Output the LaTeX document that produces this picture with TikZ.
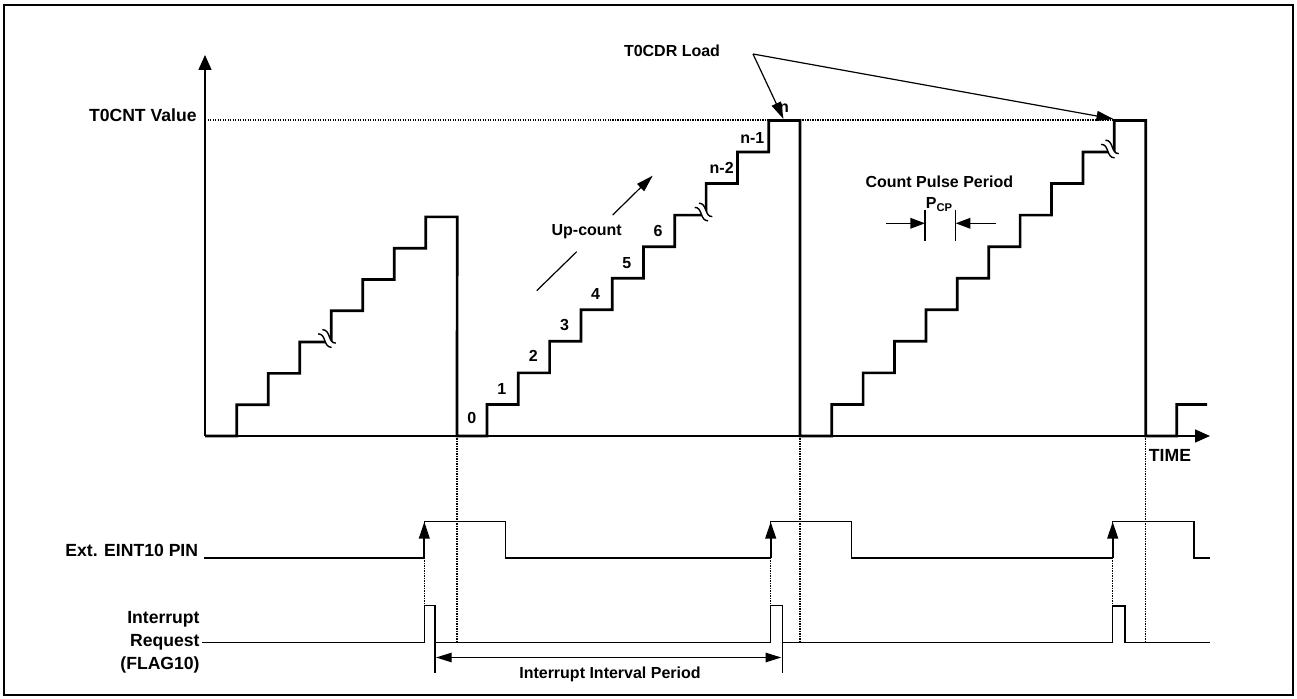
\documentclass[tikz,border=0pt]{standalone}
\usepackage{fontspec}
\setmainfont{Liberation Sans}
\usetikzlibrary{arrows.meta}
\begin{document}
\begin{tikzpicture}[x=0.5pt,y=-0.5pt,
  lbl/.style={inner sep=0pt, font=\bfseries\fontsize{8}{9.6}\selectfont, text height=5.75pt, text depth=0pt},
  biglbl/.style={inner sep=0pt, font=\bfseries\fontsize{8.8}{10.5}\selectfont, text height=6.3pt, text depth=0pt},
  stair/.style={line width=1.35pt, line join=miter},
  axisline/.style={line width=0.8pt, -{Triangle[length=7.5pt,width=6.5pt]}},
  sig/.style={line width=0.7pt, line join=miter},
  dots/.style={line width=0.6pt, dash pattern=on 0.6pt off 0.65pt},
  ptr/.style={line width=0.6pt, -{Triangle[length=8.5pt,width=5pt]}},
  cpar/.style={line width=0.6pt, -{Triangle[length=7.3pt,width=5.3pt]}},
  edgearrow/.style={line width=1.1pt, -{Triangle[length=8.5pt,width=5.3pt]}},
  intarrow/.style={line width=0.6pt, {Triangle[length=7.8pt,width=4.7pt]}-{Triangle[length=7.8pt,width=4.7pt]}},
  brk/.pic={
    \draw[white,line width=2.6pt] (-10,0) .. controls (-4,-6) and (4,6) .. (10,0);
    \draw[line width=0.7pt] (-9.5,-3) .. controls (-3.5,-9) and (4,3) .. (9.5,-3);
    \draw[line width=0.7pt] (-9.5,3) .. controls (-4,-3) and (3.5,9) .. (9.5,3);
  }
]
\useasboundingbox (0,0) rectangle (1297,699);
% frame
\draw[line width=1pt] (4,5) rectangle (1293,695);

% coordinates
\coordinate (O) at (205,436);
\coordinate (ytip) at (205,55);
\coordinate (xtip) at (1210,436);
\coordinate (dL) at (205,120);
\coordinate (dR) at (1113,120);

% dotted guide lines
\draw[dots] (dL) -- (dR);
\draw[dots] (457,436) -- (457,642.3);
\draw[dots] (800,436) -- (800,642.3);
\draw[dots] (1145.7,436) -- (1145.7,642.3);
\draw[dots] (424.3,558) -- (424.3,605.7);
\draw[dots] (770.7,558) -- (770.7,605.7);
\draw[dots] (1112.7,558) -- (1112.7,606);

% axes
\draw[axisline] (O) -- (ytip);
\draw[axisline] (O) -- (xtip);

% staircases
\draw[stair] (205,436) -- (236.7,436)
  foreach \k in {1,...,7} { -- ++(0,-31.3) -- ++(31.5,0) }
  -- (457,436) -- (487,436)
  foreach \k in {1,...,10} { -- ++(0,-31.55) -- ++(31.3,0) }
  -- (800,436) -- (831.7,436)
  foreach \k in {1,...,10} { -- ++(0,-31.55) -- ++(31.4,0) }
  -- (1145.7,436) -- (1176.7,436) -- (1176.7,404.45) -- (1207,404.45);

% break marks
\pic[rotate=-45] at (327,338.5) {brk};
\pic[rotate=-45] at (703.5,212) {brk};
\pic[rotate=-45] at (1110,149) {brk};

% labels on the axis
\node[biglbl, anchor=east] (cntval) at (197,115) {T0CNT Value};
\node[biglbl] (time) at (1170,455) {TIME};

% step labels
\node[lbl] (s0) at (471.7,418) {0};
\node[lbl] (s1) at (501.7,388.3) {1};
\node[lbl] (s2) at (533.3,356) {2};
\node[lbl] (s3) at (564.5,325) {3};
\node[lbl] (s4) at (595.5,294) {4};
\node[lbl] (s5) at (626.7,262.5) {5};
\node[lbl] (s6) at (658,231) {6};
\node[lbl] (sn2) at (721.7,168) {n-2};
\node[lbl] (sn1) at (752.3,137.3) {n-1};
\node[lbl] (sn) at (784,106.5) {n};

% T0CDR Load
\node[lbl] (load) at (672,51) {T0CDR Load};
\coordinate (ldpt) at (753,54);
\coordinate (top1) at (783.5,119);
\coordinate (top2) at (1113.5,119);
\draw[ptr] (ldpt) -- (top1);
\draw[ptr] (ldpt) -- (top2);

% Up-count
\node[lbl] (upc) at (586.7,230) {Up-count};
\coordinate (ua) at (536.7,290.7);
\coordinate (ub) at (576.7,251.7);
\coordinate (uc) at (612.7,215);
\coordinate (ud) at (652.7,175.7);
\draw[line width=0.6pt] (ua) -- (ub);
\draw[ptr] (uc) -- (ud);

% Count pulse period
\node[lbl] (cpp) at (939.3,181.7) {Count Pulse Period};
\node[lbl] (pcp) at (939,202.7) {P\raisebox{-0.35ex}{\fontsize{5.6}{6}\selectfont CP}};
\coordinate (b1t) at (925,210);
\coordinate (b1b) at (925,240.7);
\coordinate (b2t) at (955.7,210);
\coordinate (b2b) at (955.7,240.7);
\draw[line width=0.6pt] (b1t) -- (b1b);
\draw[line width=0.6pt] (b2t) -- (b2b);
\coordinate (pa) at (886,223.3);
\coordinate (pb) at (996,223.3);
\draw[cpar] (pa) -- (925,223.3);
\draw[cpar] (pb) -- (955.7,223.3);

% Ext EINT10 PIN
\node[biglbl, anchor=east] (eint) at (198.5,550) {Ext. EINT10 PIN};
\draw[sig] (204,558) -- (424.3,558) -- (424.3,521.7) -- (505.7,521.7) -- (505.7,558)
  -- (770.7,558) -- (770.7,521.7) -- (851.7,521.7) -- (851.7,558)
  -- (1112.7,558) -- (1112.7,521.7) -- (1194,521.7) -- (1194,558) -- (1210,558);
\draw[edgearrow] (424.3,558) -- (424.3,521.7);
\draw[edgearrow] (770.7,558) -- (770.7,521.7);
\draw[edgearrow] (1112.7,558) -- (1112.7,521.7);

% Interrupt request
\node[biglbl, anchor=east] (irq1) at (200,617) {Interrupt};
\node[biglbl, anchor=east] (irq2) at (200,640) {Request};
\node[biglbl, anchor=east] (irq3) at (200,663) {(FLAG10)};
\draw[sig] (202,642.3) -- (424.3,642.3) -- (424.3,605.7) -- (435,605.7) -- (435,642.3)
  -- (770.7,642.3) -- (770.7,605.7) -- (782.3,605.7) -- (782.3,642.3)
  -- (1112.7,642.3) -- (1112.7,606) -- (1125,606) -- (1125,642.3) -- (1210,642.3);
\coordinate (t1a) at (435,642.3);
\coordinate (t1b) at (435,673);
\coordinate (t2a) at (782.3,642.3);
\coordinate (t2b) at (782.3,673);
\draw[sig] (t1a) -- (t1b);
\draw[sig] (t2a) -- (t2b);
\draw[intarrow] (436,657.5) -- (781.3,657.5);
\node[lbl] (iip) at (610,673) {Interrupt Interval Period};
\end{tikzpicture}
\end{document}
